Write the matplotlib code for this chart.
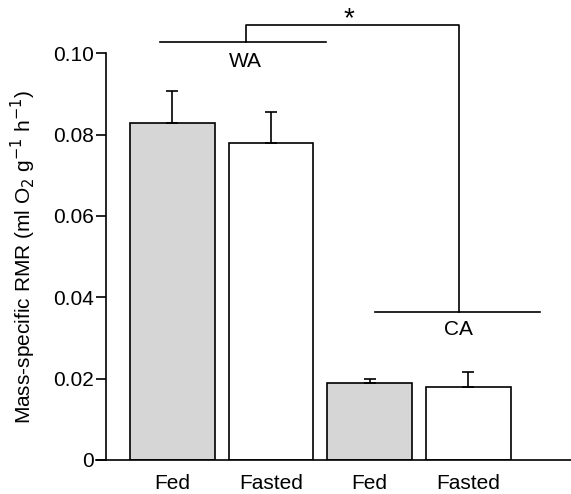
import matplotlib
matplotlib.use("Agg")
import matplotlib.pyplot as plt

plt.rcParams['font.family'] = ['Liberation Sans', 'DejaVu Sans']

# data
labels = ['Fed', 'Fasted', 'Fed', 'Fasted']
rmr = [0.0829, 0.0779, 0.0188, 0.0179]
sem = [0.0079, 0.0077, 0.0011, 0.0037]
colors = ['#d6d6d6', 'white', '#d6d6d6', 'white']
groups = ['WA', 'CA']

fig = plt.figure(figsize=(5.71, 4.94), dpi=100)
ax = fig.add_axes([0.186, 0.069, 0.814, 0.823])

x = range(len(rmr))
ax.bar(x, rmr, width=0.86, color=colors, edgecolor='black', linewidth=1.2,
       yerr=[[0] * len(sem), sem], capsize=4.3,
       error_kw=dict(ecolor='black', elinewidth=1.2, capthick=1.2))

ax.set_xlim(-0.67, 4.04)
ax.set_ylim(0, 0.10)
ax.set_yticks([0, 0.02, 0.04, 0.06, 0.08, 0.10])
ax.set_yticklabels(['0', '0.02', '0.04', '0.06', '0.08', '0.10'])
ax.set_xticks(list(x))
ax.set_xticklabels(labels)
ax.tick_params(axis='x', length=0, pad=10, labelsize=15)
ax.tick_params(axis='y', length=7, width=1.2, labelsize=15, pad=2)
for s in ['top', 'right']:
    ax.spines[s].set_visible(False)
for s in ['left', 'bottom']:
    ax.spines[s].set_linewidth(1.2)
ax.spines['bottom'].set_bounds(-0.77, 4.04)

ax.set_ylabel('Mass-specific RMR (ml O$_2$ g$^{-1}$ h$^{-1}$)', fontsize=15, labelpad=11)

# group brackets and significance
kw = dict(color='black', lw=1.2, clip_on=False)
ax.plot([-0.127, 1.555], [0.1028, 0.1028], **kw)
ax.plot([2.05, 3.73], [0.0364, 0.0364], **kw)
ax.plot([0.742, 0.742, 2.90, 2.90], [0.1028, 0.107, 0.107, 0.0364], **kw)
ax.text(0.742, 0.0981, groups[0], ha='center', va='center', fontsize=15)
ax.text(2.90, 0.0322, groups[1], ha='center', va='center', fontsize=15)
ax.text(1.79, 0.1085, '*', ha='center', va='center', fontsize=20)

fig.savefig('out.png', dpi=100)
